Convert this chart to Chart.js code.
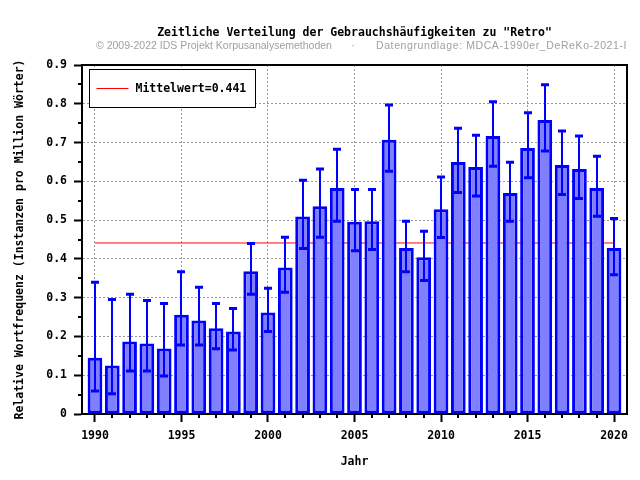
<!DOCTYPE html>
<html>
<head>
<meta charset="utf-8">
<script src="https://cdn.jsdelivr.net/npm/chart.js@4"></script>
<style>
  body { margin: 0; background: #fff; }
</style>
</head>
<body>
<canvas id="chart" width="640" height="480"></canvas>
<script>
const years = [1990, 1991, 1992, 1993, 1994, 1995, 1996, 1997, 1998, 1999, 2000,
  2001, 2002, 2003, 2004, 2005, 2006, 2007, 2008, 2009, 2010,
  2011, 2012, 2013, 2014, 2015, 2016, 2017, 2018, 2019, 2020];
const freq = [0.145, 0.125, 0.187, 0.182, 0.169, 0.256, 0.241, 0.221, 0.213, 0.368, 0.262,
  0.378, 0.509, 0.536, 0.583, 0.496, 0.497, 0.707, 0.428, 0.404, 0.528,
  0.650, 0.637, 0.717, 0.570, 0.686, 0.758, 0.642, 0.632, 0.583, 0.428];
const errLow = [0.059, 0.052, 0.111, 0.111, 0.098, 0.178, 0.178, 0.168, 0.165, 0.309, 0.213,
  0.314, 0.427, 0.456, 0.497, 0.421, 0.424, 0.626, 0.367, 0.344, 0.455,
  0.571, 0.562, 0.639, 0.497, 0.609, 0.678, 0.566, 0.556, 0.510, 0.359];
const errHigh = [0.340, 0.295, 0.309, 0.293, 0.285, 0.367, 0.327, 0.285, 0.272, 0.440, 0.324,
  0.456, 0.603, 0.632, 0.683, 0.579, 0.579, 0.797, 0.497, 0.471, 0.611,
  0.737, 0.719, 0.805, 0.649, 0.777, 0.849, 0.730, 0.717, 0.665, 0.504];
const meanValue = 0.441;
const meanSpan = [1990, 2020];
const credits = ["© 2009-2022 IDS Projekt Korpusanalysemethoden", "·", "Datengrundlage: MDCA-1990er_DeReKo-2021-I"];

const mono = "'DejaVu Sans Mono', monospace";

// error bars on top of the boxes
const errorBars = {
  id: "errorBars",
  afterDatasetsDraw(chart) {
    const ctx = chart.ctx;
    const x = chart.scales.x, y = chart.scales.y;
    ctx.save();
    ctx.strokeStyle = "#0000ff";
    years.forEach((yr, i) => {
      const px = Math.round(x.getPixelForValue(yr));
      const lo = y.getPixelForValue(errLow[i]);
      const hi = y.getPixelForValue(errHigh[i]);
      ctx.lineWidth = 2;
      ctx.beginPath();
      ctx.moveTo(px, lo);
      ctx.lineTo(px, hi);
      ctx.stroke();
      ctx.lineWidth = 3;
      ctx.beginPath();
      ctx.moveTo(px - 4, lo); ctx.lineTo(px + 4, lo);
      ctx.moveTo(px - 4, hi); ctx.lineTo(px + 4, hi);
      ctx.stroke();
    });
    ctx.restore();
  }
};

// minor ticks, top/right frame, credits line and the boxed legend
const frame = {
  id: "frame",
  afterDraw(chart) {
    const ctx = chart.ctx;
    const a = chart.chartArea;
    const x = chart.scales.x, y = chart.scales.y;
    ctx.save();
    ctx.strokeStyle = "#000";
    ctx.lineWidth = 2;
    ctx.beginPath();
    years.forEach((yr) => {
      if (yr % 5 === 0) return;
      const px = Math.round(x.getPixelForValue(yr));
      ctx.moveTo(px, a.bottom);
      ctx.lineTo(px, a.bottom + 4);
    });
    for (let v = 0.05; v < 0.9; v += 0.1) {
      const py = Math.round(y.getPixelForValue(v));
      ctx.moveTo(a.left, py);
      ctx.lineTo(a.left - 4, py);
    }
    ctx.moveTo(a.left - 1, a.top);
    ctx.lineTo(a.right, a.top);
    ctx.lineTo(a.right, a.bottom + 1);
    ctx.stroke();

    // credits under the title
    ctx.fillStyle = "#a0a0a0";
    ctx.font = "10.5px 'Liberation Sans', sans-serif";
    ctx.textBaseline = "middle";
    ctx.textAlign = "left";
    ctx.fillText(credits[0], 96, 46);
    ctx.textAlign = "center";
    ctx.fillText(credits[1], 353, 46);
    ctx.textAlign = "left";
    ctx.letterSpacing = "0.6px";
    ctx.fillText(credits[2], 376, 46);
    ctx.letterSpacing = "0px";

    // legend box
    const ds = chart.data.datasets[1];
    const bx = a.left + 7.5, by = a.top + 4.5, bw = 166, bh = 38;
    ctx.fillStyle = "#fff";
    ctx.fillRect(bx, by, bw, bh);
    ctx.lineWidth = 1;
    ctx.strokeRect(bx, by, bw, bh);
    ctx.strokeStyle = ds.borderColor;
    ctx.beginPath();
    ctx.moveTo(bx + 7, by + 19);
    ctx.lineTo(bx + 39, by + 19);
    ctx.stroke();
    ctx.fillStyle = "#000";
    ctx.font = "bold 11.5px " + mono;
    ctx.fillText(ds.label, bx + 46, by + 19.5);
    ctx.restore();
  }
};

new Chart(document.getElementById("chart"), {
  data: {
    datasets: [
      {
        type: "bar",
        label: "Retro",
        data: years.map((yr, i) => ({ x: yr, y: freq[i] })),
        backgroundColor: "#8080ff",
        borderColor: "#0000ff",
        borderWidth: 3,
        borderSkipped: false,
        categoryPercentage: 1,
        barPercentage: 0.85,
        order: 1,
      },
      {
        type: "line",
        label: "Mittelwert=" + meanValue,
        data: meanSpan.map((yr) => ({ x: yr, y: meanValue })),
        borderColor: "#ff0000",
        borderWidth: 1,
        pointRadius: 0,
        order: 2,
      },
    ],
  },
  options: {
    responsive: false,
    animation: false,
    layout: { padding: { left: 0, right: 13, top: 0, bottom: 0 } },
    plugins: {
      legend: { display: false },
      tooltip: { enabled: false },
      title: {
        display: true,
        fullSize: false,
        text: 'Zeitliche Verteilung der Gebrauchshäufigkeiten zu "Retro"',
        color: "#000",
        font: { family: mono, size: 11.5, weight: "bold" },
        padding: { top: 26, bottom: 25.2 },
      },
    },
    scales: {
      x: {
        type: "linear",
        min: 1989.25,
        max: 2020.75,
        offset: false,
        afterFit(scale) { scale.height = 66; },
        ticks: {
          stepSize: 5,
          includeBounds: false,
          padding: 7,
          color: "#000",
          font: { family: mono, size: 11.5, weight: "bold" },
          callback: (v) => String(v),
        },
        grid: {
          offset: false,
          color: "#999",
          lineWidth: 1,
          tickColor: "#000",
          tickWidth: 2,
          tickLength: 8,
        },
        border: { display: true, color: "#000", width: 2, dash: [2, 2] },
        title: {
          display: true,
          text: "Jahr",
          color: "#000",
          font: { family: mono, size: 11.5, weight: "bold" },
          padding: { top: 4, bottom: 11 },
        },
      },
      y: {
        min: 0,
        max: 0.9,
        afterFit(scale) { scale.width = 82; },
        ticks: {
          stepSize: 0.1,
          padding: 7,
          color: "#000",
          font: { family: mono, size: 11.5, weight: "bold" },
          callback: (v) => (v === 0 ? "0" : v.toFixed(1)),
        },
        grid: {
          color: "#999",
          lineWidth: 1,
          tickColor: "#000",
          tickWidth: 2,
          tickLength: 8,
        },
        border: { display: true, color: "#000", width: 2, dash: [2, 2] },
        title: {
          display: true,
          text: "Relative Wortfrequenz (Instanzen pro Million Wörter)",
          color: "#000",
          font: { family: mono, size: 11.5, weight: "bold" },
          padding: { top: 13, bottom: 0 },
        },
      },
    },
  },
  plugins: [errorBars, frame],
});
</script>
</body>
</html>
